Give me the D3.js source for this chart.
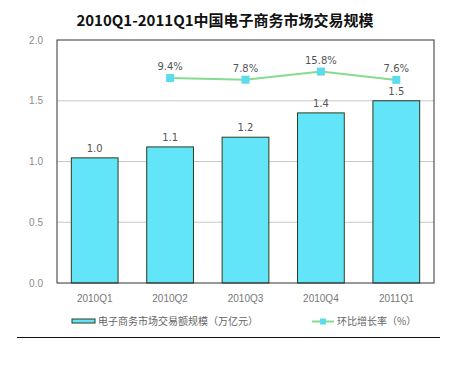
<!DOCTYPE html>
<html><head><meta charset="utf-8">
<script src="https://cdn.jsdelivr.net/npm/d3@7"></script>
<style>
body{margin:0;background:#fff;}
svg{display:block;font-family:"DejaVu Sans","Noto Sans CJK SC",sans-serif;}
</style></head>
<body><div id="chart"></div>
<script>
const categories = ["2010Q1","2010Q2","2010Q3","2010Q4","2011Q1"];
const scaleValues = [1.03, 1.12, 1.20, 1.40, 1.50];
const scaleLabels = ["1.0","1.1","1.2","1.4","1.5"];
const growthCategories = ["2010Q2","2010Q3","2010Q4","2011Q1"];
const growthValues = [9.4, 7.8, 15.8, 7.6];
const growthLabels = ["9.4%","7.8%","15.8%","7.6%"];
const yTicks = [0, 0.5, 1.0, 1.5, 2.0];
const title = "2010Q1-2011Q1中国电子商务市场交易规模";
const legendBar = "电子商务市场交易额规模（万亿元）";
const legendLine = "环比增长率（%）";

const W = 470, H = 370;
const m = {left:57, right:434, top:40, bottom:283};
const svg = d3.select("#chart").append("svg").attr("width", W).attr("height", H);

const x = d3.scaleBand().domain(categories).range([m.left, m.right]).paddingInner(0.38).paddingOuter(0.19);
const y = d3.scaleLinear().domain([0, 2]).range([m.bottom, m.top]);
const y2 = d3.scaleLinear().domain([-193, 47]).range([m.bottom, m.top]);

// title
svg.append("text").attr("x", 225).attr("y", 26).attr("text-anchor", "middle")
  .attr("font-size", 15).attr("font-weight", "bold").attr("fill", "#111")
  .attr("font-family", "\"Noto Sans CJK SC\",\"DejaVu Sans\",sans-serif").text(title);

// gridlines
svg.append("g").selectAll("line").data(yTicks.filter(t => t > 0 && t < 2)).join("line")
  .attr("x1", m.left).attr("x2", m.right).attr("y1", d => y(d)).attr("y2", d => y(d))
  .attr("stroke", "#c8c8c8").attr("stroke-width", 1);

// y axis labels
const yAxis = d3.axisLeft(y).tickValues(yTicks).tickFormat(d3.format(".1f")).tickSize(0).tickPadding(14);
const ga = svg.append("g").attr("transform", `translate(${m.left},0)`).call(yAxis);
ga.select(".domain").remove();
ga.selectAll("text").attr("fill", "#8a8a8a").attr("font-size", 10);

// bars
svg.append("g").selectAll("rect").data(categories).join("rect")
  .attr("x", d => x(d)).attr("width", x.bandwidth())
  .attr("y", (d, i) => y(scaleValues[i])).attr("height", (d, i) => y(0) - y(scaleValues[i]))
  .attr("fill", "#62e5f8").attr("stroke", "#2c3a1c").attr("stroke-width", 1);

svg.append("g").selectAll("text").data(categories).join("text")
  .attr("x", d => x(d) + x.bandwidth() / 2).attr("y", (d, i) => y(scaleValues[i]) - 6)
  .attr("text-anchor", "middle").attr("font-size", 10).attr("fill", "#555")
  .text((d, i) => scaleLabels[i]);

// plot border
svg.append("rect").attr("x", m.left).attr("y", m.top).attr("width", m.right - m.left).attr("height", m.bottom - m.top)
  .attr("fill", "none").attr("stroke", "#333").attr("stroke-width", 1);

// x labels
const xAxis = d3.axisBottom(x).tickSize(0).tickPadding(12);
const gx = svg.append("g").attr("transform", `translate(0,${m.bottom})`).call(xAxis);
gx.select(".domain").remove();
gx.selectAll("text").attr("fill", "#777").attr("font-size", 10);

// line
const cx = d => x(d) + x.bandwidth() / 2;
const line = d3.line().x((d, i) => cx(growthCategories[i])).y(d => y2(d));
svg.append("path").datum(growthValues).attr("d", line)
  .attr("fill", "none").attr("stroke", "#86dc8e").attr("stroke-width", 2);
svg.append("g").selectAll("rect").data(growthValues).join("rect")
  .attr("x", (d, i) => cx(growthCategories[i]) - 4).attr("y", d => y2(d) - 4)
  .attr("width", 8).attr("height", 8).attr("fill", "#5adcec");
svg.append("g").selectAll("text").data(growthValues).join("text")
  .attr("x", (d, i) => cx(growthCategories[i])).attr("y", d => y2(d) - 8)
  .attr("text-anchor", "middle").attr("font-size", 10).attr("fill", "#555")
  .text((d, i) => growthLabels[i]);

// legend
svg.append("rect").attr("x", 72).attr("y", 319).attr("width", 23).attr("height", 4)
  .attr("fill", "#62e5f8").attr("stroke", "#2c3a1c").attr("stroke-width", 1);
svg.append("text").attr("x", 98).attr("y", 325).attr("font-size", 10).attr("fill", "#666")
  .attr("font-family", "\"Noto Sans CJK SC\",sans-serif").text(legendBar);
svg.append("line").attr("x1", 312).attr("x2", 334).attr("y1", 321.5).attr("y2", 321.5)
  .attr("stroke", "#86dc8e").attr("stroke-width", 2);
svg.append("rect").attr("x", 320).attr("y", 318.5).attr("width", 6).attr("height", 6).attr("fill", "#5adcec");
svg.append("text").attr("x", 337).attr("y", 325).attr("font-size", 10).attr("fill", "#666")
  .attr("font-family", "\"Noto Sans CJK SC\",sans-serif").text(legendLine);

// separator line
svg.append("line").attr("x1", 17).attr("x2", 440).attr("y1", 337.5).attr("y2", 337.5)
  .attr("stroke", "#111").attr("stroke-width", 1);
</script></body></html>
